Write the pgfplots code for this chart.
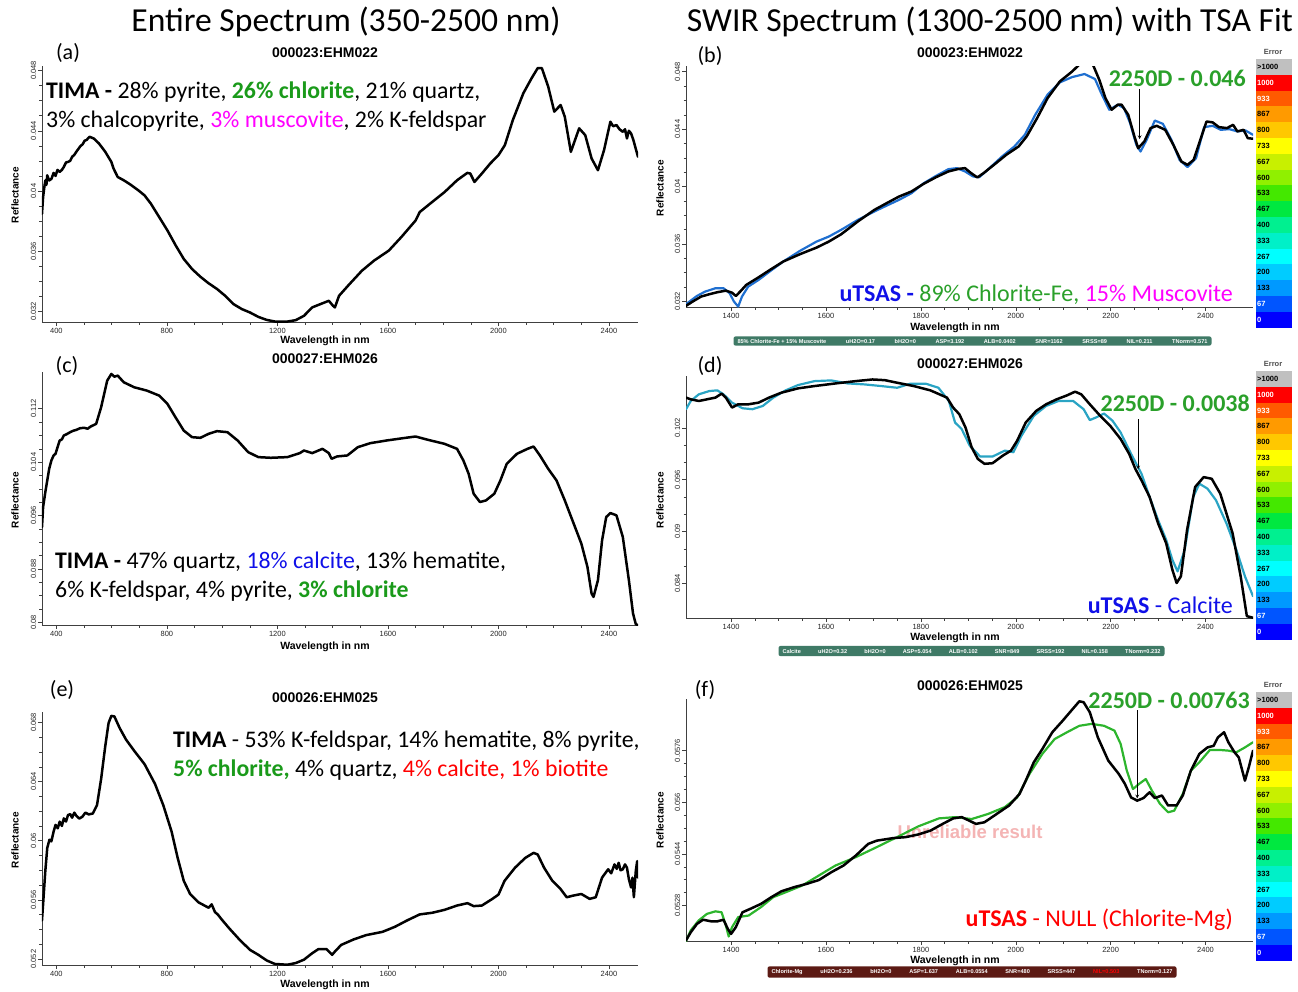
\documentclass[border=0pt]{standalone}
\usepackage{fontspec}
\setmainfont{Liberation Sans}
\newfontfamily\calib{Carlito}
\usepackage{pgfplots}
\pgfplotsset{compat=1.18}

\definecolor{fitblue}{HTML}{1F6FD0}
\definecolor{fitcyan}{HTML}{2AA4C4}
\definecolor{fitgreen}{HTML}{2DB52D}
\definecolor{timagreen}{HTML}{1A9A1A}
\definecolor{labgreen}{HTML}{2AA02A}
\definecolor{blueT}{HTML}{1010E8}
\definecolor{magT}{HTML}{FF00FF}
\definecolor{redT}{HTML}{FF0000}
\definecolor{barteal}{HTML}{3F7A66}
\definecolor{barred}{HTML}{5C1A14}
\definecolor{pinkT}{HTML}{F4B4B4}
% error scale colours
\definecolor{cb0}{HTML}{C0C0C0}
\definecolor{cb1}{HTML}{FF0000}
\definecolor{cb2}{HTML}{FF5A00}
\definecolor{cb3}{HTML}{FF9A00}
\definecolor{cb4}{HTML}{FFC800}
\definecolor{cb5}{HTML}{FFFF00}
\definecolor{cb6}{HTML}{C8F000}
\definecolor{cb7}{HTML}{90F000}
\definecolor{cb8}{HTML}{44E800}
\definecolor{cb9}{HTML}{00E840}
\definecolor{cb10}{HTML}{00F090}
\definecolor{cb11}{HTML}{00F0C8}
\definecolor{cb12}{HTML}{00FFFF}
\definecolor{cb13}{HTML}{00CCFF}
\definecolor{cb14}{HTML}{0099FF}
\definecolor{cb15}{HTML}{0055FF}
\definecolor{cb16}{HTML}{0000FF}

\pgfplotsset{
  spec/.style={
    scale only axis,
    axis lines*=left,
    axis line style={black!75, line width=0.7pt},
    every tick/.style={black!75, line width=0.5pt},
    tick align=outside,
    major tick length=4pt,
    minor tick length=2.5pt,
    tick label style={font=\fontsize{7.5}{8}\selectfont, text=black!85},
    yticklabel style={rotate=90, anchor=south, inner sep=1.5pt},
    xticklabel style={inner sep=2pt},
    scaled y ticks=false, scaled x ticks=false,
    clip=true,
    /pgf/number format/assume math mode=true,
  },
  wide/.style={spec, xmin=348, xmax=2505, width=596pt,
    xtick={400,800,...,2400}, xticklabels={400,800,1200,1600,2000,2400},
    minor x tick num=3, minor y tick num=3},
  swir/.style={spec, xmin=1305, xmax=2500, width=567pt,
    xtick={1400,1600,...,2400}, xticklabels={1400,1600,1800,2000,2200,2400},
    minor x tick num=3, minor y tick num=3},
  spec line/.style={line width=2.5pt, line join=round, line cap=round},
  fit line/.style={line width=2.2pt, line join=round, line cap=round},
}

% error colour scale beside each fit panel; #1 = top edge
\newcommand\errscale[1]{%
  \node[font=\bfseries\fontsize{7.5}{8}\selectfont, text=black!70] at (1273,#1-7) {Error};
  \foreach \i/\c/\t/\tc in {0/cb0/>1000/black,1/cb1/1000/white,2/cb2/933/white,3/cb3/867/black,
     4/cb4/800/black,5/cb5/733/black,6/cb6/667/black,7/cb7/600/black,8/cb8/533/black,
     9/cb9/467/black,10/cb10/400/black,11/cb11/333/black,12/cb12/267/black,13/cb13/200/black,
     14/cb14/133/black,15/cb15/67/white,16/cb16/0/white}{
    \fill[\c] (1256,{#1+\i*15.8}) rectangle (1292,{#1+(\i+1)*15.8});
    \node[anchor=west, inner sep=1pt, text=\tc, font=\bfseries\fontsize{7.5}{8}\selectfont]
      at (1256,{#1+(\i+0.5)*15.8}) {\t};
  }}

\begin{document}
\begin{tikzpicture}
\path[use as bounding box] (0,0) rectangle (1298pt,-991pt);

\begin{scope}[x=1pt,y=-1pt]
  % column headings
  \node[font=\calib\fontsize{33.6}{36}\selectfont] at (346,22) {Entire Spectrum (350-2500 nm)};
  \node[font=\calib\fontsize{33.6}{36}\selectfont] at (990,22) {SWIR Spectrum (1300-2500 nm) with TSA Fit};

  % panel letters
  \foreach \x/\y/\t in {68/53/a,710/56/b,67/366/c,710/366/d,62/690/e,705/690/f}
    \node[font=\calib\fontsize{22}{24}\selectfont] at (\x,\y) {(\t)};

  % sample names
  \foreach \x/\y/\t in {325/53/000023:EHM022,970/53/000023:EHM022,325/359/000027:EHM026,
                        970/364/000027:EHM026,325/698/000026:EHM025,970/686/000026:EHM025}
    \node[font=\bfseries\fontsize{14}{15}\selectfont] at (\x,\y) {\t};

  % axis titles
  \foreach \x/\y in {325/341,955/328,325/647,955/638,325/985,955/961}
    \node[font=\bfseries\fontsize{10.5}{11}\selectfont] at (\x,\y) {Wavelength in nm};
  \foreach \x/\y in {15/195,660/188,15/500,660/500,15/840,660/820}
    \node[rotate=90, font=\bfseries\fontsize{10}{11}\selectfont] at (\x,\y) {Reflectance};

  % flag behind the bottom fit
  \node[text=pinkT, font=\bfseries\fontsize{18.5}{20}\selectfont] at (970,832) {Unreliable result};

  % error scales
  \errscale{59}
  \errscale{371}
  \errscale{692}

  % fit summary bars
  \node[fill=barteal, rounded corners=2pt, inner xsep=4pt, inner ysep=2.5pt, text=white,
        font=\bfseries\fontsize{5.6}{6}\selectfont] at (972.5,341)
    {\hbox to 470pt{85\% Chlorite-Fe + 15\% Muscovite\hfill uH2O=0.17\hfill bH2O=0\hfill ASP=3.192\hfill ALB=0.0402\hfill SNR=1162\hfill SRSS=89\hfill NIL=0.211\hfill TNorm=0.571}};
  \node[fill=barteal, rounded corners=2pt, inner xsep=4pt, inner ysep=3pt, text=white,
        font=\bfseries\fontsize{5.6}{6}\selectfont] at (971.5,651)
    {\hbox to 378pt{Calcite\hfill uH2O=0.32\hfill bH2O=0\hfill ASP=5.054\hfill ALB=0.102\hfill SNR=849\hfill SRSS=192\hfill NIL=0.158\hfill TNorm=0.232}};
  \node[fill=barred, rounded corners=2pt, inner xsep=4pt, inner ysep=3pt, text=white,
        font=\bfseries\fontsize{5.6}{6}\selectfont] at (972,972)
    {\hbox to 401pt{Chlorite-Mg\hfill uH2O=0.236\hfill bH2O=0\hfill ASP=1.637\hfill ALB=0.0554\hfill SNR=480\hfill SRSS=447\hfill {\color{redT}NIL=0.503}\hfill TNorm=0.127}};

  % mineralogy notes
  \node[anchor=west, align=left, inner sep=0pt, font=\calib\fontsize{23.8}{29}\selectfont] at (46,106.5)
    {\textbf{TIMA -} 28\% pyrite, {\color{timagreen}\textbf{26\% chlorite}}, 21\% quartz,\\
     3\% chalcopyrite, {\color{magT}3\% muscovite}, 2\% K-feldspar};
  \node[anchor=west, align=left, inner sep=0pt, font=\calib\fontsize{23.8}{29}\selectfont] at (55,576.5)
    {\textbf{TIMA -} 47\% quartz, {\color{blueT}18\% calcite}, 13\% hematite,\\
     6\% K-feldspar, 4\% pyrite, {\color{timagreen}\textbf{3\% chlorite}}};
  \node[anchor=west, align=left, inner sep=0pt, font=\calib\fontsize{23.8}{29}\selectfont] at (173,755.5)
    {\textbf{TIMA} - 53\% K-feldspar, 14\% hematite, 8\% pyrite,\\
     {\color{timagreen}\textbf{5\% chlorite,}} 4\% quartz, {\color{redT}4\% calcite, 1\% biotite}};

  \node[anchor=east, inner sep=0pt, font=\calib\fontsize{24}{26}\selectfont] at (1233,295)
    {{\color{blueT}\textbf{uTSAS -}} {\color{labgreen}89\% Chlorite-Fe,} {\color{magT}15\% Muscovite}};
  \node[anchor=east, inner sep=0pt, font=\calib\fontsize{24}{26}\selectfont, text=blueT] at (1233,605)
    {\textbf{uTSAS} - Calcite};
  \node[anchor=east, inner sep=0pt, font=\calib\fontsize{24}{26}\selectfont, text=redT] at (1233,920)
    {\textbf{uTSAS} - NULL (Chlorite-Mg)};

  \node[anchor=east, inner sep=0pt, text=labgreen, font=\calib\bfseries\fontsize{24}{26}\selectfont] at (1246,78) {2250D - 0.046};
  \node[anchor=east, inner sep=0pt, text=labgreen, font=\calib\bfseries\fontsize{24}{26}\selectfont] at (1250,403) {2250D - 0.0038};
  \node[anchor=east, inner sep=0pt, text=labgreen, font=\calib\bfseries\fontsize{24}{26}\selectfont] at (1250,700) {2250D - 0.00763};
\end{scope}

% (a) full-range spectrum, 000023:EHM022
\begin{axis}[wide, at={(42pt,-322pt)}, anchor=south west, height=256pt,
  ymin=0.0313, ymax=0.0483,
  ytick={0.032,0.036,0.04,0.044,0.048}, yticklabels={0.032,0.036,0.04,0.044,0.048}]
\addplot[black, spec line] coordinates {
(348,0.03849)(352,0.0396)(356,0.0402)(360,0.0407)(364,0.0404)(367,0.04104)(374,0.0407)(382,0.0408)(390,0.0412)(397,0.04100)(404,0.0414)(412,0.04127)(420,0.0414)(427,0.0416)(435,0.0419)(442,0.04193)(450,0.0420)(457,0.04227)(465,0.0424)(472,0.0426)(480,0.0428)(487,0.04298)(495,0.0431)(502,0.04333)(510,0.0434)(520,0.0436)(535,0.04349)(554,0.04316)(577,0.0426)(599,0.04193)(607,0.04149)(622,0.04093)(644,0.04071)(667,0.04044)(697,0.04004)(719,0.03971)(742,0.03916)(772,0.03827)(802,0.03738)(832,0.03638)(861,0.03549)(891,0.03482)(921,0.03431)(951,0.03387)(981,0.0335)(1011,0.03304)(1041,0.03249)(1071,0.03216)(1101,0.03193)(1131,0.03164)(1161,0.03144)(1191,0.03133)(1236,0.03133)(1266,0.03142)(1296,0.03171)(1326,0.03227)(1356,0.03249)(1386,0.03271)(1401,0.03238)(1408,0.03227)(1423,0.03304)(1461,0.03382)(1506,0.03471)(1550,0.03538)(1603,0.03604)(1648,0.03693)(1700,0.03804)(1715,0.0386)(1760,0.03927)(1805,0.03993)(1850,0.04071)(1887,0.0412)(1898,0.04116)(1913,0.0406)(1940,0.04116)(1970,0.04182)(2000,0.04238)(2023,0.04304)(2052,0.04471)(2090,0.04649)(2120,0.04749)(2142,0.04816)(2157,0.04816)(2180,0.04693)(2202,0.04527)(2225,0.04571)(2240,0.04493)(2262,0.0426)(2292,0.04416)(2314,0.04371)(2337,0.04216)(2360,0.04138)(2382,0.04271)(2405,0.0446)(2415,0.0443)(2427,0.04438)(2438,0.0441)(2450,0.04393)(2458,0.0441)(2465,0.04349)(2472,0.0440)(2480,0.04382)(2488,0.0434)(2495,0.04293)(2505,0.04227)};
\end{axis}

% (b) SWIR fit, 000023:EHM022
\begin{axis}[swir, at={(686pt,-307pt)}, anchor=south west, height=241pt,
  ymin=0.0316, ymax=0.0484,
  ytick={0.032,0.036,0.04,0.044,0.048}, yticklabels={0.032,0.036,0.04,0.044,0.048}]
\addplot[fitblue, fit line] coordinates {
(1305,0.03180)(1328,0.03237)(1345,0.03267)(1367,0.03291)(1384,0.03291)(1397,0.03256)(1406,0.03198)(1415,0.03163)(1423,0.03233)(1436,0.03302)(1458,0.03349)(1484,0.03414)(1510,0.03477)(1545,0.03551)(1580,0.03616)(1606,0.03651)(1632,0.03698)(1667,0.03767)(1702,0.03826)(1728,0.03867)(1754,0.03907)(1780,0.03953)(1806,0.04023)(1832,0.04074)(1858,0.04121)(1876,0.04128)(1893,0.04105)(1910,0.0407)(1923,0.04065)(1937,0.04105)(1971,0.04209)(1997,0.04279)(2019,0.0436)(2041,0.045)(2067,0.0464)(2093,0.04726)(2119,0.04763)(2145,0.04784)(2167,0.04749)(2180,0.04651)(2197,0.04535)(2215,0.0457)(2228,0.04547)(2241,0.04442)(2254,0.04291)(2263,0.04244)(2276,0.04326)(2293,0.0446)(2310,0.04437)(2328,0.04326)(2345,0.04186)(2362,0.04135)(2380,0.04198)(2397,0.04414)(2415,0.04423)(2432,0.04395)(2450,0.044)(2467,0.04384)(2484,0.04391)(2500,0.0436)};
\addplot[black, spec line] coordinates {
(1305,0.03168)(1319,0.03198)(1337,0.03233)(1354,0.03249)(1371,0.03263)(1389,0.03274)(1402,0.0326)(1410,0.03237)(1419,0.03267)(1432,0.03314)(1458,0.03367)(1484,0.03423)(1510,0.03477)(1545,0.03528)(1580,0.03574)(1606,0.03616)(1632,0.03667)(1667,0.03756)(1702,0.03837)(1728,0.03884)(1754,0.0393)(1780,0.03965)(1806,0.04019)(1832,0.04065)(1858,0.04105)(1880,0.04123)(1893,0.04128)(1906,0.04093)(1919,0.04063)(1932,0.04093)(1954,0.04151)(1980,0.04221)(2006,0.04279)(2023,0.04349)(2045,0.04477)(2067,0.04616)(2093,0.04733)(2119,0.04802)(2140,0.0487)(2160,0.0487)(2176,0.04744)(2189,0.04616)(2202,0.04535)(2215,0.0457)(2223,0.0457)(2237,0.045)(2250,0.04349)(2258,0.04267)(2271,0.04314)(2284,0.04407)(2297,0.04423)(2315,0.04395)(2332,0.04291)(2349,0.04174)(2362,0.04151)(2375,0.04186)(2389,0.04326)(2402,0.04453)(2415,0.04447)(2428,0.04414)(2445,0.04407)(2458,0.0443)(2467,0.04384)(2480,0.04395)(2489,0.04337)(2500,0.04333)};
\draw[-stealth, line width=0.7pt] (axis cs:2261,0.0468) -- (axis cs:2261,0.0433);
\end{axis}

% (c) full-range spectrum, 000027:EHM026
\begin{axis}[wide, at={(42pt,-625pt)}, anchor=south west, height=253pt,
  ymin=0.0796, ymax=0.1175, minor y tick num=3,
  ytick={0.08,0.088,0.096,0.104,0.112}, yticklabels={0.08,0.088,0.096,0.104,0.112}]
\addplot[black, spec line] coordinates {
(348,0.09428)(352,0.09727)(360,0.0995)(367,0.10126)(374,0.1030)(382,0.10425)(390,0.1050)(397,0.10525)(404,0.1062)(412,0.10724)(420,0.1074)(427,0.10799)(438,0.1082)(450,0.10849)(461,0.1087)(472,0.10883)(487,0.1091)(502,0.10913)(513,0.1090)(524,0.10933)(544,0.10973)(562,0.11222)(584,0.11621)(599,0.11721)(610,0.1168)(622,0.11696)(644,0.11596)(682,0.11521)(727,0.11472)(772,0.11397)(802,0.11272)(831,0.11073)(861,0.10873)(891,0.10774)(921,0.10764)(951,0.10824)(981,0.10864)(1019,0.10849)(1056,0.10724)(1094,0.1055)(1131,0.10475)(1176,0.10465)(1236,0.10475)(1281,0.10535)(1296,0.10574)(1326,0.10535)(1363,0.10599)(1386,0.10535)(1396,0.1045)(1416,0.10485)(1453,0.105)(1491,0.10624)(1536,0.10684)(1595,0.10724)(1655,0.10759)(1700,0.10784)(1745,0.10734)(1805,0.10674)(1850,0.10599)(1873,0.10425)(1892,0.10226)(1910,0.09927)(1933,0.09802)(1955,0.09827)(1985,0.09927)(2007,0.10126)(2030,0.10375)(2067,0.10525)(2105,0.10599)(2127,0.10634)(2150,0.105)(2180,0.103)(2210,0.10126)(2240,0.09827)(2270,0.09503)(2300,0.09179)(2322,0.0883)(2337,0.08431)(2344,0.08381)(2360,0.08631)(2375,0.09229)(2390,0.09578)(2405,0.09637)(2427,0.09603)(2450,0.09279)(2472,0.08631)(2487,0.08132)(2497,0.07973)(2505,0.07958)};
\end{axis}

% (d) SWIR fit, 000027:EHM026
\begin{axis}[swir, at={(686pt,-618pt)}, anchor=south west, height=242pt,
  ymin=0.0800, ymax=0.1080, minor y tick num=2,
  ytick={0.084,0.09,0.096,0.102}, yticklabels={0.084,0.09,0.096,0.102}]
\addplot[fitcyan, fit line] coordinates {
(1305,0.10416)(1315,0.10511)(1332,0.10588)(1354,0.10626)(1371,0.10634)(1384,0.10588)(1402,0.10492)(1424,0.10427)(1445,0.10416)(1467,0.10454)(1489,0.1055)(1515,0.10634)(1541,0.10695)(1576,0.10741)(1611,0.10749)(1646,0.10714)(1681,0.10703)(1716,0.10684)(1750,0.10664)(1777,0.1071)(1811,0.1071)(1837,0.10664)(1859,0.10511)(1872,0.10262)(1886,0.10186)(1903,0.09994)(1925,0.09868)(1951,0.09868)(1977,0.09937)(1995,0.09918)(2012,0.10109)(2038,0.10339)(2064,0.10454)(2090,0.10511)(2121,0.10511)(2143,0.10416)(2156,0.1029)(2169,0.1032)(2186,0.10366)(2204,0.10282)(2221,0.10147)(2243,0.09899)(2265,0.09669)(2282,0.09401)(2300,0.09133)(2317,0.08903)(2330,0.08674)(2341,0.08539)(2356,0.08788)(2374,0.09401)(2387,0.09554)(2404,0.09497)(2422,0.09363)(2444,0.09095)(2465,0.08788)(2483,0.08482)(2500,0.08252)};
\addplot[black, spec line] coordinates {
(1305,0.1055)(1315,0.1053)(1332,0.10511)(1349,0.1053)(1367,0.1055)(1380,0.10596)(1389,0.1055)(1402,0.10435)(1415,0.10473)(1437,0.10473)(1458,0.10492)(1480,0.1055)(1506,0.10607)(1541,0.10657)(1576,0.10684)(1620,0.10714)(1663,0.10741)(1698,0.1076)(1724,0.10752)(1750,0.10722)(1785,0.10684)(1820,0.10634)(1855,0.1055)(1868,0.10435)(1881,0.10358)(1894,0.10205)(1907,0.09975)(1920,0.09841)(1934,0.09784)(1951,0.09791)(1973,0.0988)(1990,0.09937)(2003,0.10052)(2021,0.10262)(2043,0.10396)(2064,0.10473)(2086,0.1053)(2108,0.10576)(2125,0.10619)(2138,0.10588)(2156,0.10473)(2178,0.10339)(2199,0.10224)(2221,0.10071)(2239,0.09899)(2252,0.09726)(2265,0.09592)(2282,0.09401)(2300,0.09095)(2317,0.08865)(2330,0.08559)(2339,0.08405)(2348,0.08482)(2361,0.09018)(2378,0.09516)(2396,0.0963)(2413,0.09611)(2431,0.09439)(2457,0.0898)(2474,0.08482)(2487,0.08022)(2500,0.08003)};
\draw[-stealth, line width=0.7pt] (axis cs:2258,0.1030) -- (axis cs:2258,0.0972);
\end{axis}

% (e) full-range spectrum, 000026:EHM025
\begin{axis}[wide, at={(42pt,-965pt)}, anchor=south west, height=253pt,
  ymin=0.0516, ymax=0.0687,
  ytick={0.052,0.056,0.06,0.064,0.068}, yticklabels={0.052,0.056,0.06,0.064,0.068}]
\addplot[black, spec line] coordinates {
(348,0.05462)(352,0.05573)(360,0.05796)(367,0.05951)(375,0.06007)(382,0.05996)(390,0.06062)(397,0.06107)(405,0.06084)(412,0.06129)(420,0.0610)(427,0.06151)(435,0.0613)(442,0.06173)(450,0.0618)(457,0.06156)(465,0.0619)(472,0.06169)(483,0.0615)(494,0.06162)(505,0.0619)(517,0.06178)(532,0.06184)(547,0.0624)(562,0.06418)(577,0.0664)(589,0.06796)(599,0.06844)(610,0.0684)(629,0.06762)(652,0.06684)(682,0.06607)(719,0.06518)(757,0.06384)(787,0.0624)(817,0.06062)(839,0.05884)(861,0.05729)(884,0.0564)(914,0.05584)(951,0.05547)(962,0.0557)(974,0.05518)(985,0.0550)(996,0.05473)(1026,0.05407)(1064,0.05329)(1101,0.05262)(1131,0.05229)(1161,0.05191)(1191,0.05167)(1236,0.05162)(1266,0.05173)(1296,0.05196)(1326,0.0524)(1348,0.05267)(1378,0.05267)(1398,0.05229)(1408,0.05251)(1431,0.05296)(1476,0.05333)(1521,0.05362)(1580,0.05384)(1625,0.05418)(1670,0.05462)(1715,0.05502)(1760,0.05513)(1805,0.05533)(1850,0.05562)(1888,0.05578)(1910,0.05558)(1940,0.05562)(1978,0.05607)(2000,0.05636)(2022,0.05729)(2060,0.05818)(2097,0.05884)(2127,0.05918)(2142,0.05907)(2165,0.05818)(2195,0.05729)(2225,0.05673)(2247,0.05618)(2270,0.05629)(2300,0.0564)(2330,0.05607)(2352,0.05618)(2375,0.05751)(2397,0.05807)(2408,0.0578)(2420,0.0584)(2428,0.0581)(2435,0.05851)(2442,0.0580)(2450,0.05807)(2458,0.0584)(2465,0.05818)(2472,0.0574)(2480,0.05684)(2485,0.0575)(2490,0.05618)(2497,0.05796)(2502,0.05862)(2505,0.05751)};
\end{axis}

% (f) SWIR fit, 000026:EHM025
\begin{axis}[swir, at={(686pt,-941pt)}, anchor=south west, height=242pt,
  ymin=0.0517, ymax=0.0592,
  ytick={0.0528,0.0544,0.056,0.0576}, yticklabels={0.0528,0.0544,0.056,0.0576}]
\addplot[fitgreen, fit line] coordinates {
(1305,0.0517)(1315,0.05203)(1332,0.05234)(1349,0.05254)(1367,0.05262)(1380,0.05259)(1389,0.05218)(1395,0.05184)(1402,0.05213)(1415,0.05244)(1437,0.05249)(1463,0.05275)(1489,0.05306)(1515,0.05321)(1550,0.05342)(1585,0.05373)(1620,0.05404)(1663,0.0543)(1707,0.05461)(1750,0.05492)(1794,0.05525)(1838,0.0555)(1872,0.05554)(1907,0.05548)(1942,0.05564)(1977,0.05585)(2003,0.05615)(2029,0.05688)(2056,0.0575)(2082,0.05796)(2108,0.05817)(2134,0.05837)(2160,0.05843)(2186,0.05837)(2208,0.05822)(2221,0.05781)(2234,0.05698)(2247,0.05641)(2260,0.05657)(2274,0.05672)(2287,0.05636)(2304,0.05595)(2321,0.05569)(2334,0.05574)(2352,0.05626)(2369,0.05698)(2387,0.05724)(2409,0.05762)(2431,0.05762)(2448,0.0576)(2465,0.05755)(2483,0.0577)(2500,0.05786)};
\addplot[black, spec line] coordinates {
(1305,0.05172)(1315,0.05197)(1328,0.05223)(1341,0.05236)(1358,0.05231)(1371,0.05231)(1384,0.05236)(1393,0.05208)(1400,0.05192)(1410,0.05213)(1424,0.05259)(1441,0.0527)(1463,0.05285)(1485,0.05306)(1506,0.05324)(1533,0.05337)(1559,0.05347)(1585,0.05359)(1611,0.05383)(1637,0.05404)(1663,0.05435)(1689,0.05471)(1707,0.05481)(1720,0.05484)(1742,0.05489)(1768,0.05492)(1794,0.055)(1820,0.05512)(1846,0.05533)(1868,0.0555)(1886,0.05554)(1899,0.05545)(1916,0.05533)(1934,0.05538)(1960,0.05564)(1986,0.0559)(2008,0.05626)(2021,0.05667)(2038,0.05724)(2056,0.05765)(2077,0.05817)(2099,0.05853)(2117,0.05884)(2134,0.05913)(2143,0.0591)(2156,0.05879)(2173,0.05801)(2195,0.05729)(2217,0.05688)(2230,0.05657)(2243,0.05615)(2256,0.05605)(2269,0.05613)(2282,0.05631)(2293,0.05613)(2308,0.05621)(2321,0.0559)(2339,0.0559)(2352,0.05621)(2369,0.05698)(2387,0.0575)(2404,0.0577)(2417,0.05775)(2426,0.05801)(2439,0.05817)(2448,0.05786)(2461,0.05755)(2470,0.05739)(2483,0.05667)(2491,0.05708)(2500,0.0576)};
\draw[-stealth, line width=0.7pt] (axis cs:2256,0.05885) -- (axis cs:2256,0.05612);
\end{axis}
\end{tikzpicture}
\end{document}
